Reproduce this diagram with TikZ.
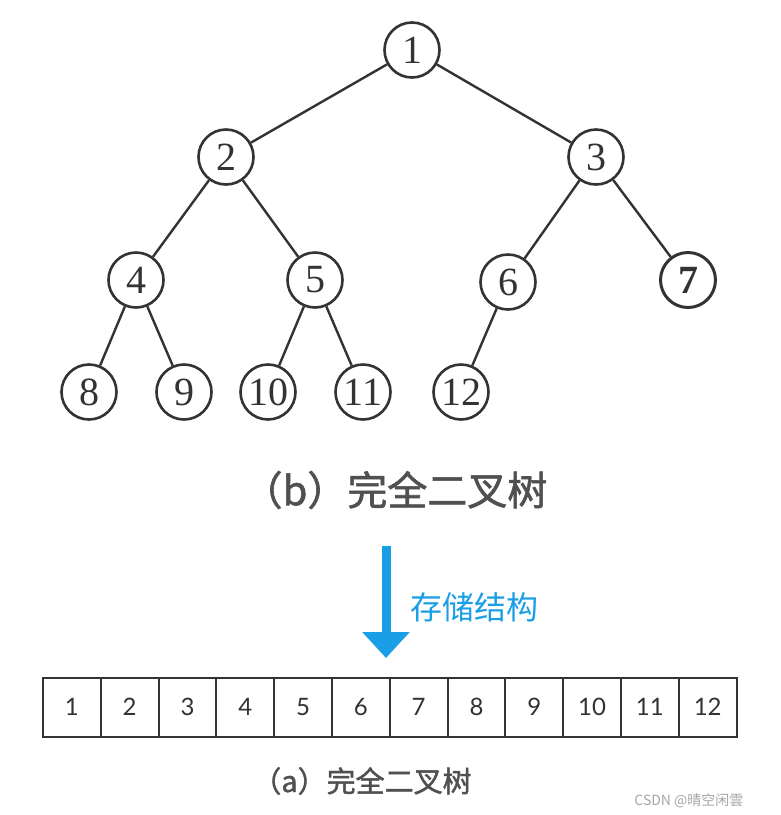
\documentclass[tikz,border=0pt]{standalone}
\usepackage{fontspec}
\setmainfont{Liberation Serif}
\newfontfamily\cjk{Noto Sans CJK SC}
\newfontfamily\cjkb[FakeBold=1.5]{Noto Sans CJK SC}
\newfontfamily\arrfont{Lato}
\usetikzlibrary{arrows.meta}
\definecolor{ink}{HTML}{333333}
\definecolor{capgray}{HTML}{505050}
\definecolor{blu}{HTML}{1A9FE6}
\tikzset{
  tn/.style={circle,draw=ink,line width=2.6pt,minimum size=55pt,inner sep=0pt,font=\fontsize{40}{40}\selectfont,text=ink},
  ed/.style={draw=ink,line width=2.4pt},
  cell/.style={draw=ink,line width=2pt,minimum width=57.8pt,minimum height=59pt,inner sep=0pt,font=\arrfont\fontsize{24}{24}\selectfont,text=ink}
}
\begin{document}
\begin{tikzpicture}[x=1pt,y=-1pt]
\useasboundingbox[fill=white] (0,0) rectangle (781,815);
\node[tn] (n1) at (412,50) {1};
\node[tn] (n2) at (226,157) {2};
\node[tn] (n3) at (596,157) {3};
\node[tn] (n4) at (136,280) {4};
\node[tn] (n5) at (315,280) {5};
\node[tn] (n6) at (508,282) {6};
\node[tn,line width=3pt] (n7) at (688,280) {\bfseries 7};
\node[tn] (n8) at (89,392) {8};
\node[tn] (n9) at (184,392) {9};
\node[tn] (n10) at (268,392) {10};
\node[tn] (n11) at (363,392) {11};
\node[tn] (n12) at (461,392) {12};
\draw[ed] (n1) -- (n2);
\draw[ed] (n1) -- (n3);
\draw[ed] (n2) -- (n4);
\draw[ed] (n2) -- (n5);
\draw[ed] (n3) -- (n6);
\draw[ed] (n3) -- (n7);
\draw[ed] (n4) -- (n8);
\draw[ed] (n4) -- (n9);
\draw[ed] (n5) -- (n10);
\draw[ed] (n5) -- (n11);
\draw[ed] (n6) -- (n12);
\node[font=\cjkb\fontsize{40}{40}\selectfont,text=capgray] (capb) at (395,490) {（b）完全二叉树};
\coordinate (as) at (386,546);
\coordinate (ae) at (386,658);
\draw[blu,line width=9pt,-{Triangle[width=46pt,length=26pt]}] (as) -- (ae);
\node[font=\cjk\fontsize{32}{32}\selectfont,text=blu,anchor=west] (lbl) at (407,607) {存储结构};
\foreach \i in {1,...,12}{
  \node[cell] (c\i) at ({43+57.8*(\i-0.5)},707) {\i};
}
\node[font=\cjkb\fontsize{29}{29}\selectfont,text=capgray] (capa) at (362,781) {（a）完全二叉树};
\node[font=\cjk\fontsize{14}{14}\selectfont,text=gray!70,anchor=east] (wm) at (747,801) {CSDN @晴空闲雲};
\end{tikzpicture}
\end{document}
